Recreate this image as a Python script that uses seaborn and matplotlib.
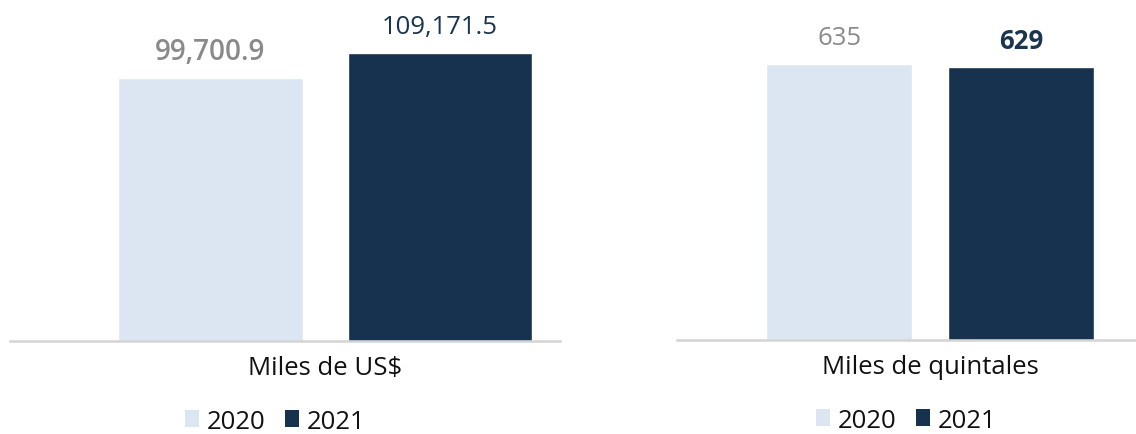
import pandas as pd
import matplotlib.pyplot as plt
import seaborn as sns
from matplotlib.patches import Patch

sns.set_style("white")
plt.rcParams['font.family'] = ['Open Sans', 'DejaVu Sans']

years = ["2020", "2021"]
usd_values = [99700.9, 109171.5]
qq_values = [635, 629]
usd_labels = ["99,700.9", "109,171.5"]
qq_labels = ["635", "629"]
categories = ["Miles de US$", "Miles de quintales"]

colors = {"2020": "#dce6f2", "2021": "#17324f"}
label_colors = ["#8a8a8a", "#1b3550"]


def panel(ax, cat, values, labels, weights, fsizes, ylim, xlim, legx):
    df = pd.DataFrame({"cat": [cat] * 2, "year": years, "val": values})
    sns.barplot(data=df, x="cat", y="val", hue="year", palette=colors,
                width=0.9, gap=0.195, ax=ax, legend=False, saturation=1)
    for p, lab, c, w, fs in zip(ax.patches, labels, label_colors, weights, fsizes):
        ax.annotate(lab, (p.get_x() + p.get_width() / 2, p.get_height()),
                    xytext=(0, 19), textcoords="offset points",
                    ha="center", va="center", fontsize=fs, color=c, fontweight=w)
    ax.set_ylim(0, ylim)
    ax.set_xlim(*xlim)
    ax.set_xlabel("")
    ax.set_ylabel("")
    ax.set_yticks([])
    for s in ["top", "left", "right"]:
        ax.spines[s].set_visible(False)
    ax.spines["bottom"].set_color("#d4d4d4")
    ax.spines["bottom"].set_linewidth(1.8)
    ax.tick_params(axis="x", length=0, pad=10, labelsize=18.5, labelcolor="#111111")
    handles = [Patch(facecolor=colors[y], edgecolor="none", label=y) for y in years]
    ax.legend(handles=handles, loc="center", bbox_to_anchor=(legx, -0.235),
              ncol=2, frameon=False, fontsize=18.5, handlelength=0.55, handleheight=0.65,
              handletextpad=0.3, columnspacing=0.75, labelcolor="#111111",
              borderpad=0.1)


fig = plt.figure(figsize=(11.36, 4.35), dpi=100)
ax1 = fig.add_axes([0.0088, 0.214, 0.484, 0.786])
ax2 = fig.add_axes([0.596, 0.216, 0.404, 0.784])

panel(ax1, categories[0], usd_values, usd_labels, ["semibold", "normal"], [20, 18.5],
      129650, (-0.618, 0.460), 0.482)
panel(ax2, categories[1], qq_values, qq_labels, ["normal", "bold"], [18.5, 18.5],
      785, (-0.626, 0.509), 0.5)

fig.savefig("out.png", dpi=100)
